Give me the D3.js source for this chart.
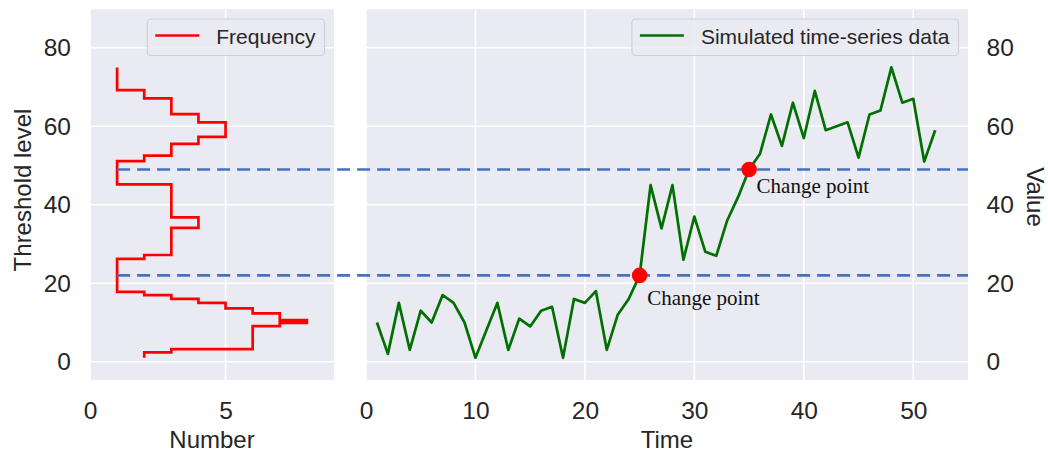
<!DOCTYPE html>
<html>
<head>
<meta charset="utf-8">
<script src="https://cdn.jsdelivr.net/npm/d3@7"></script>
<style>
  html, body { margin: 0; padding: 0; background: #fff; }
  svg { display: block; }
</style>
</head>
<body>
<div id="chart"></div>
<script>
// Simulated series (Time 1..52)
const times = d3.range(1, 53);
const values = [10, 2, 15, 3, 13, 10, 17, 15, 10, 1,
                8, 15, 3, 11, 9, 13, 14, 1, 16, 15,
                18, 3, 12, 16, 22, 45, 34, 45, 26, 37,
                28, 27, 36, 42, 49, 53, 63, 55, 66, 57,
                69, 59, 60, 61, 52, 63, 64, 75, 66, 67,
                51, 59];

// Frequency step: level breakpoints (bottom to top) and count in each band
const freqLevels = [1, 2.4, 3.2, 9.1, 9.9, 10.6, 12.3, 13.6, 15, 16, 17, 17.8,
                    26.2, 27.2, 34.1, 36.8, 45.2, 51.1, 52.5, 55.5, 57.3, 61,
                    63.1, 67.1, 69.2, 75];
const freqCounts = [2, 3, 6, 7, 8, 7, 6, 5, 4, 3, 2, 1,
                    2, 3, 4, 3, 1, 2, 3, 4, 5, 4, 3, 2, 1];

// Change points
const changeTimes = [25, 35];
const thresholds = [22, 49];

const yTicks = [0, 20, 40, 60, 80];
const leftTicks = [0, 5];
const timeTicks = [0, 10, 20, 30, 40, 50];

const W = 1048, H = 453;
const plotTop = 9.3, plotBottom = 380;
const leftPanel = { x0: 90, x1: 334 };
const rightPanel = { x0: 366, x1: 968 };

const textColor = '#262626';
const bg = '#eaeaf2';
const sans = 'Liberation Sans, Arial, sans-serif';
const tickSize = 24.5;
const labelSize = 24;

const svg = d3.select('#chart').append('svg')
  .attr('width', W).attr('height', H)
  .attr('viewBox', `0 0 ${W} ${H}`);

svg.append('rect').attr('width', W).attr('height', H).attr('fill', '#fff');

const y = d3.scaleLinear().domain([-4.65, 89.8]).range([plotBottom, plotTop]);
const xL = d3.scaleLinear().domain([0, 9]).range([leftPanel.x0, leftPanel.x1]);
const xR = d3.scaleLinear().domain([0, 55]).range([rightPanel.x0, rightPanel.x1]);

function panel(xs, xTicks) {
  const g = svg.append('g');
  g.append('rect')
    .attr('x', xs.range()[0]).attr('y', plotTop)
    .attr('width', xs.range()[1] - xs.range()[0]).attr('height', plotBottom - plotTop)
    .attr('fill', bg);
  g.append('g').selectAll('line').data(yTicks).join('line')
    .attr('x1', xs.range()[0]).attr('x2', xs.range()[1])
    .attr('y1', d => y(d)).attr('y2', d => y(d))
    .attr('stroke', '#fff').attr('stroke-width', 1.6);
  g.append('g').selectAll('line').data(xTicks).join('line')
    .attr('x1', d => xs(d)).attr('x2', d => xs(d))
    .attr('y1', plotTop).attr('y2', plotBottom)
    .attr('stroke', '#fff').attr('stroke-width', 1.6);

  const ax = g.append('g')
    .attr('transform', `translate(0,${plotBottom})`)
    .call(d3.axisBottom(xs).tickValues(xTicks).tickSize(0).tickPadding(21.5));
  ax.select('.domain').remove();
  ax.selectAll('text').attr('font-family', sans).attr('font-size', tickSize).attr('fill', textColor);
  return g;
}

panel(xL, leftTicks);
panel(xR, timeTicks);

// y axes
const axL = svg.append('g').attr('transform', `translate(${leftPanel.x0},0)`)
  .call(d3.axisLeft(y).tickValues(yTicks).tickSize(0).tickPadding(19));
axL.select('.domain').remove();
axL.selectAll('text').attr('font-family', sans).attr('font-size', tickSize).attr('fill', textColor);

const axR = svg.append('g').attr('transform', `translate(${rightPanel.x1},0)`)
  .call(d3.axisRight(y).tickValues(yTicks).tickSize(0).tickPadding(18.5));
axR.select('.domain').remove();
axR.selectAll('text').attr('font-family', sans).attr('font-size', tickSize).attr('fill', textColor);

// axis labels
svg.append('text')
  .attr('transform', `translate(31,190) rotate(-90)`)
  .attr('text-anchor', 'middle').attr('font-family', sans).attr('font-size', labelSize)
  .attr('fill', textColor).text('Threshold level');
svg.append('text')
  .attr('transform', `translate(1027,197) rotate(90)`)
  .attr('text-anchor', 'middle').attr('font-family', sans).attr('font-size', labelSize)
  .attr('fill', textColor).text('Value');
svg.append('text')
  .attr('x', (leftPanel.x0 + leftPanel.x1) / 2).attr('y', 448)
  .attr('text-anchor', 'middle').attr('font-family', sans).attr('font-size', labelSize)
  .attr('fill', textColor).text('Number');
svg.append('text')
  .attr('x', (rightPanel.x0 + rightPanel.x1) / 2).attr('y', 448)
  .attr('text-anchor', 'middle').attr('font-family', sans).attr('font-size', labelSize)
  .attr('fill', textColor).text('Time');

// frequency step line
const stepPts = freqCounts.map((c, i) => [c, freqLevels[i]]);
stepPts.push([freqCounts[freqCounts.length - 1], freqLevels[freqLevels.length - 1]]);
svg.append('path')
  .attr('d', d3.line().x(d => xL(d[0])).y(d => y(d[1])).curve(d3.curveStepBefore)(stepPts))
  .attr('fill', 'none').attr('stroke', '#ff0000').attr('stroke-width', 2.7);

// time series
svg.append('path')
  .attr('d', d3.line().x((d, i) => xR(times[i])).y(d => y(d))(values))
  .attr('fill', 'none').attr('stroke', '#007000').attr('stroke-width', 2.7)
  .attr('stroke-linejoin', 'round');

// threshold dashed lines across both panels
svg.append('g').selectAll('line').data(thresholds).join('line')
  .attr('x1', xL(1)).attr('x2', rightPanel.x1)
  .attr('y1', d => y(d)).attr('y2', d => y(d))
  .attr('stroke', '#4572bd').attr('stroke-width', 2.6)
  .attr('stroke-dasharray', '13 7');

// change points
const labelDy = [30, 24];
changeTimes.forEach((t, i) => {
  const v = values[times.indexOf(t)];
  svg.append('circle')
    .attr('cx', xR(t)).attr('cy', y(v)).attr('r', 7.8).attr('fill', '#ff0000');
  svg.append('text')
    .attr('x', xR(t) + 7.5).attr('y', y(v) + labelDy[i])
    .attr('font-family', 'Liberation Serif, Times New Roman, serif')
    .attr('font-size', 21).attr('fill', '#111').text('Change point');
});

// legends
function legend(x1, label, color) {
  const g = svg.append('g');
  const txt = g.append('text')
    .attr('font-family', sans).attr('font-size', 21).attr('fill', textColor)
    .attr('dominant-baseline', 'central').text(label);
  const tw = txt.node().getComputedTextLength();
  const boxW = tw + 78;
  const x0 = x1 - boxW;
  g.insert('rect', 'text')
    .attr('x', x0).attr('y', 19).attr('width', boxW).attr('height', 36.5)
    .attr('rx', 4).attr('fill', bg).attr('fill-opacity', 0.85)
    .attr('stroke', '#d0d0d8').attr('stroke-width', 1.2);
  g.insert('line', 'text')
    .attr('x1', x0 + 8).attr('x2', x0 + 52).attr('y1', 35.5).attr('y2', 35.5)
    .attr('stroke', color).attr('stroke-width', 2.5);
  txt.attr('x', x0 + 69).attr('y', 36.5);
}
legend(324.5, 'Frequency', '#ff0000');
legend(958.5, 'Simulated time-series data', '#007000');
</script>
</body>
</html>
